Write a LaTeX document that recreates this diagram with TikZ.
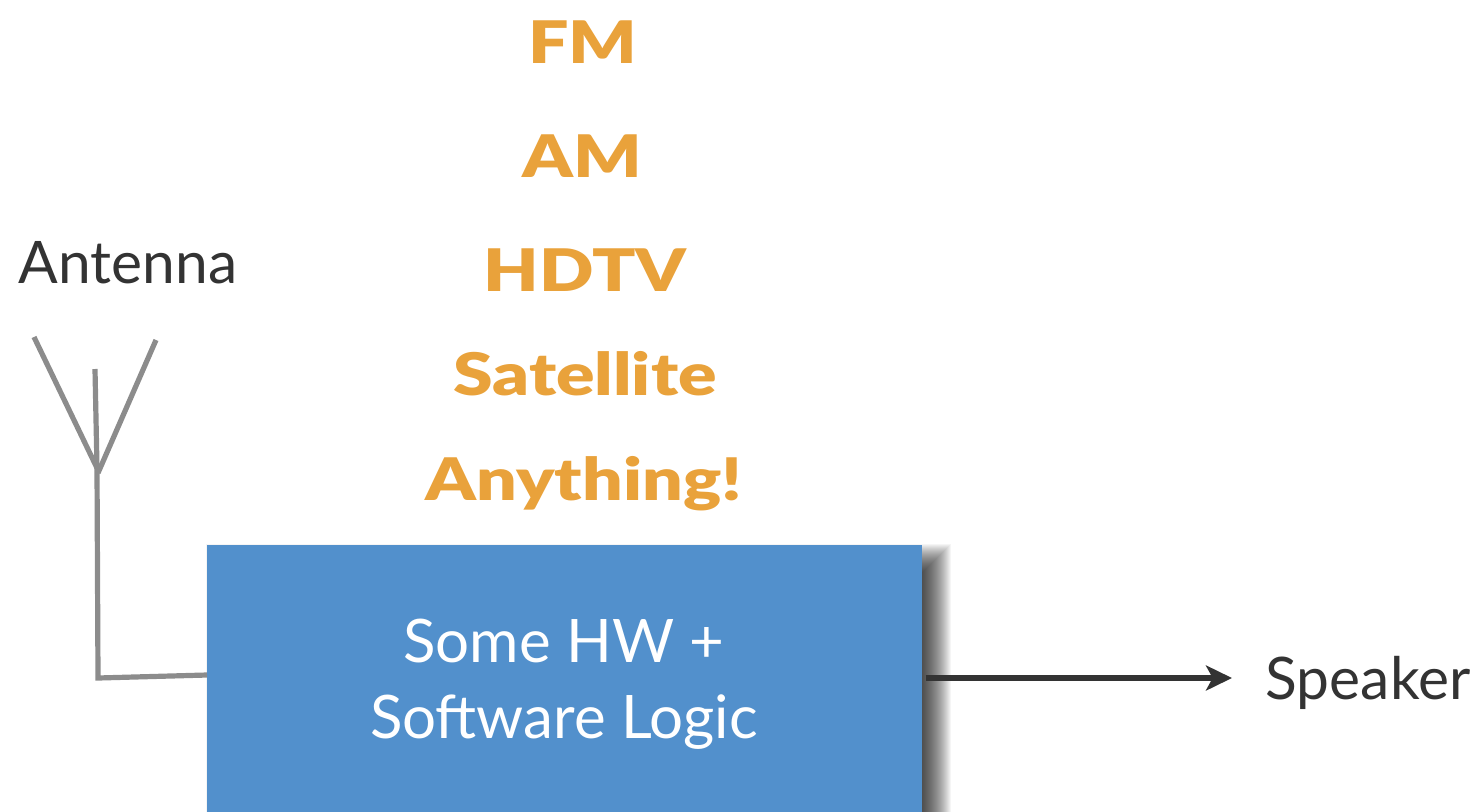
\documentclass[tikz,border=0pt]{standalone}
\usepackage{fontspec}
\setmainfont{Lato}
\newfontfamily\heavyfont[FakeStretch=1.22]{Lato Black}
\usetikzlibrary{arrows.meta}
\definecolor{orangetxt}{HTML}{E9A23B}
\definecolor{boxblue}{HTML}{5290CC}
\definecolor{darktxt}{HTML}{333333}
\definecolor{antgray}{HTML}{8C8C8C}
\tikzset{
  proto/.style={text=orangetxt,font=\fontsize{44}{44}\heavyfont,anchor=center,inner sep=0pt},
  lbl/.style={text=darktxt,font=\fontsize{44}{44}\selectfont,inner sep=0pt},
  ant/.style={draw=antgray,line width=3.9pt},
  shadowlayer/.style={fill=black,opacity=0.04},
}
\begin{document}
\begin{tikzpicture}[x=0.75pt,y=-0.75pt]
\useasboundingbox (0,0) rectangle (1481,811);
\node[proto] (fm) at (583,42) {FM};
\node[proto] (am) at (582,156) {AM};
\node[proto] (hd) at (585,270) {HDTV};
\node[proto] (sat) at (585,374) {Satellite};
\node[proto] (any) at (584,484) {Anything!};
\node[lbl] (antenna) at (128,263) {Antenna};
\node[lbl] (spk) at (1368,683) {Speaker};
\coordinate (t1) at (34,337);
\coordinate (t2) at (95,369);
\coordinate (t3) at (156,340);
\coordinate (j) at (97,468);
\coordinate (j3) at (98,473);
\coordinate (c) at (98,678);
\foreach \i in {14,...,-14}
  \fill[shadowlayer] (220-\i,558-\i) rectangle (937+\i,840);
\node[fill=boxblue,inner sep=0pt,anchor=north west,minimum width=536.25pt,minimum height=200pt] (box) at (207,545) {};
\node[text=white,font=\fontsize{45}{57}\selectfont,align=center,inner sep=0pt] (boxt) at (564,684) {Some HW +\\Software Logic};
\draw[ant] (t1) -- (j);
\draw[ant] (t3) -- (j3);
\draw[ant] (t2) -- (j) -- (c) -- (box.west |- 0,675);
\draw[darktxt,line width=4pt,-{Stealth[length=19.5pt,width=18.75pt,inset=5pt]}] (box.east |- 0,678) ++(3,0) -- (1232,678);
\end{tikzpicture}
\end{document}
